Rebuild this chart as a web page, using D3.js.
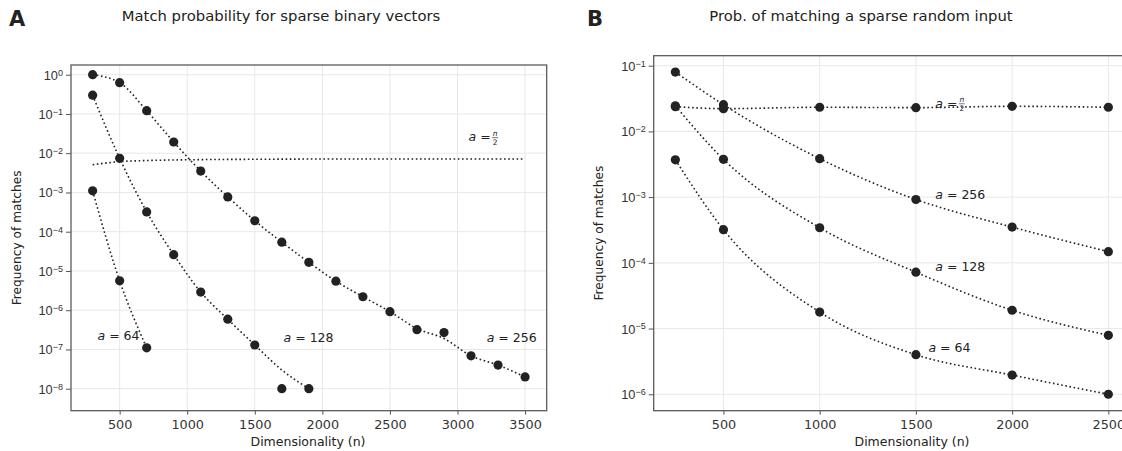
<!DOCTYPE html>
<html lang="en">
<head>
  <meta charset="UTF-8" />
  <title>Sparse match probability</title>
  <script src="https://d3js.org/d3.v7.min.js"></script>
  <style>
    body { margin: 0; background: #fff; }
    svg { display: block; font-family: 'DejaVu Sans', sans-serif; }
    .tick text { fill: #333; }
  </style>
</head>
<body>
  <svg width="1122" height="451"></svg>
  <script>
    // ---- panel A: simulated points and theory curves
    const nA64 = [300, 500, 700];
    const pA64 = [1.1e-3, 5.6e-6, 1.1e-7];
    const fitA64 = [1.1e-3, 5.6e-6, 1.1e-7];

    const nA128 = [300, 500, 700, 900, 1100, 1300, 1500, 1700, 1900];
    const pA128 = [0.30, 7.4e-3, 3.2e-4, 2.6e-5, 2.9e-6, 5.9e-7, 1.3e-7, 1.0e-8, 1.0e-8];
    const fitA128 = [0.30, 7.4e-3, 3.2e-4, 2.6e-5, 2.9e-6, 5.9e-7, 1.3e-7, 3.0e-8, 1.0e-8];

    const nA256 = [300, 500, 700, 900, 1100, 1300, 1500, 1700, 1900, 2100, 2300, 2500, 2700, 2900, 3100, 3300, 3500];
    const pA256 = [1.0, 0.625, 0.121, 0.0193, 3.5e-3, 7.7e-4, 1.9e-4, 5.4e-5, 1.66e-5, 5.5e-6, 2.2e-6, 9.2e-7, 3.2e-7, 2.7e-7, 6.9e-8, 4.0e-8, 2.0e-8];
    const fitA256 = [1.0, 0.625, 0.121, 0.0193, 3.5e-3, 7.7e-4, 1.9e-4, 5.4e-5, 1.66e-5, 5.5e-6, 2.2e-6, 9.2e-7, 3.4e-7, 1.9e-7, 6.9e-8, 4.0e-8, 2.0e-8];

    const nAHalf = [300, 500, 700, 1000, 1500, 2000, 2500, 3000, 3500];
    const fitAHalf = [5.1e-3, 6.1e-3, 6.5e-3, 6.8e-3, 7.0e-3, 7.1e-3, 7.1e-3, 7.1e-3, 7.1e-3];

    const xTicksA = [500, 1000, 1500, 2000, 2500, 3000, 3500];
    const yTicksA = [1e0, 1e-1, 1e-2, 1e-3, 1e-4, 1e-5, 1e-6, 1e-7, 1e-8];

    // ---- panel B
    const nB = [250, 500, 1000, 1500, 2000, 2500];
    const pBHalf = [0.0238, 0.0222, 0.0233, 0.0230, 0.0241, 0.0233];
    const pB256 = [0.080, 0.0255, 3.85e-3, 9.2e-4, 3.5e-4, 1.48e-4];
    const pB128 = [0.0245, 3.76e-3, 3.42e-4, 7.2e-5, 1.9e-5, 7.9e-6];
    const pB64 = [3.7e-3, 3.2e-4, 1.78e-5, 4.0e-6, 1.96e-6, 1.0e-6];

    const xTicksB = [500, 1000, 1500, 2000, 2500];
    const yTicksB = [1e-1, 1e-2, 1e-3, 1e-4, 1e-5, 1e-6];

    // curve labels: [text, n, p]
    const labelsA = [["64", 336, 2.2e-7], ["128", 1713, 1.96e-7], ["256", 3216, 1.96e-7], ["half", 3082, 0.0257]];
    const labelsB = [["half", 1601, 0.0268], ["256", 1601, 1.11e-3], ["128", 1601, 8.9e-5], ["64", 1565, 5.2e-6]];

    const svg = d3.select("svg");
    const ink = "#222";

    function expLabel(sel, v) {
      const e = Math.round(Math.log10(v));
      sel.append("tspan").text("10");
      sel.append("tspan").attr("dy", "-0.45em").attr("font-size", "9px")
        .text(String(e).replace("-", "\u2212"));
    }

    function curveLabel(g, x, y, d) {
      const t = g.append("text")
        .attr("x", x(d[1])).attr("y", y(d[2])).attr("dy", "0.35em")
        .attr("font-size", "12.5px").attr("fill", ink);
      t.append("tspan").attr("font-style", "italic").text("a");
      if (d[0] === "half") {
        t.append("tspan").text(" =");
        const bx = x(d[1]) + 23.5;
        const by = y(d[2]);
        g.append("text").attr("x", bx + 3).attr("y", by - 1.5).attr("text-anchor", "middle")
          .attr("font-size", "7.5px").attr("font-style", "italic").attr("fill", ink).text("n");
        g.append("text").attr("x", bx + 3).attr("y", by + 8).attr("text-anchor", "middle")
          .attr("font-size", "7.5px").attr("fill", ink).text("2");
        g.append("line").attr("x1", bx).attr("x2", bx + 6).attr("y1", by + 0.5).attr("y2", by + 0.5)
          .attr("stroke", ink).attr("stroke-width", 0.6);
      } else {
        t.append("tspan").text(" = " + d[0]);
      }
    }

    function panel(o) {
      const x = d3.scaleLinear().domain(o.xDomain).range([o.left, o.right]);
      const y = d3.scaleLog().domain(o.yDomain).range([o.bottom, o.top]);
      const g = svg.append("g");

      // grid
      g.append("g").selectAll("line").data(o.xTicks).join("line")
        .attr("x1", d => x(d)).attr("x2", d => x(d))
        .attr("y1", o.top).attr("y2", o.bottom)
        .attr("stroke", "#e8e8e8").attr("stroke-width", 1);
      g.append("g").selectAll("line").data(o.yTicks).join("line")
        .attr("x1", o.left).attr("x2", o.right)
        .attr("y1", d => y(d)).attr("y2", d => y(d))
        .attr("stroke", "#e8e8e8").attr("stroke-width", 1);

      const line = d3.line().x(d => x(d[0])).y(d => y(d[1])).curve(d3.curveMonotoneX);
      o.lines.forEach(s => {
        g.append("path").datum(d3.zip(s[0], s[1]))
          .attr("d", line)
          .attr("fill", "none").attr("stroke", ink)
          .attr("stroke-width", 1.6).attr("stroke-dasharray", "1.6,2.6");
      });
      o.points.forEach(s => {
        g.append("g").selectAll("circle").data(d3.zip(s[0], s[1])).join("circle")
          .attr("cx", d => x(d[0])).attr("cy", d => y(d[1]))
          .attr("r", 4.6).attr("fill", ink);
      });

      o.labels.forEach(d => curveLabel(g, x, y, d));

      // frame
      g.append("rect")
        .attr("x", o.left).attr("y", o.top)
        .attr("width", o.right - o.left).attr("height", o.bottom - o.top)
        .attr("fill", "none").attr("stroke", "#555").attr("stroke-width", 1.25);

      // axes
      const xa = g.append("g").attr("transform", `translate(0,${o.bottom})`)
        .call(d3.axisBottom(x).tickValues(o.xTicks).tickFormat(d3.format("d")).tickSize(4).tickPadding(5));
      xa.select(".domain").remove();
      xa.selectAll("line").attr("stroke", "#555");
      xa.selectAll("text").attr("font-size", "12.8px").attr("font-family", "DejaVu Sans");

      const ya = g.append("g").attr("transform", `translate(${o.left},0)`)
        .call(d3.axisLeft(y).tickValues(o.yTicks).tickFormat("").tickSize(5).tickPadding(4));
      ya.select(".domain").remove();
      ya.selectAll("line").attr("stroke", "#555");
      ya.selectAll(".tick text").remove();
      ya.selectAll(".tick").append("text")
        .attr("x", -8).attr("dy", "0.35em").attr("text-anchor", "end")
        .attr("font-size", "12.8px").attr("fill", "#333")
        .each(function(v) { expLabel(d3.select(this), v); });

      // titles
      g.append("text").attr("x", o.letterX).attr("y", 26)
        .attr("font-size", "21px").attr("font-weight", "bold").attr("fill", ink).text(o.letter);
      g.append("text").attr("x", o.titleX).attr("y", 21).attr("text-anchor", "middle")
        .attr("font-size", "14.8px").attr("fill", ink).text(o.title);
      g.append("text").attr("x", o.xLabelX).attr("y", 446).attr("text-anchor", "middle")
        .attr("font-size", "12.5px").attr("fill", ink).text("Dimensionality (n)");
      g.append("text")
        .attr("transform", `translate(${o.yLabelX},${(o.top + o.bottom) / 2}) rotate(-90)`)
        .attr("text-anchor", "middle").attr("font-size", "12.2px").attr("fill", ink)
        .text("Frequency of matches");
    }

    panel({
      left: 71, right: 546.7, top: 65, bottom: 410.7,
      xDomain: [140, 3660], yDomain: [Math.pow(10, -8.56), Math.pow(10, 0.247)],
      xTicks: xTicksA, yTicks: yTicksA,
      lines: [[nA64, fitA64], [nA128, fitA128], [nA256, fitA256], [nAHalf, fitAHalf]],
      points: [[nA64, pA64], [nA128, pA128], [nA256, pA256]],
      labels: labelsA,
      letter: "A", letterX: 9, title: "Match probability for sparse binary vectors", titleX: 281,
      xLabelX: 308, yLabelX: 21
    });

    panel({
      left: 653.7, right: 1130, top: 55.7, bottom: 410.7,
      xDomain: [137.5, 2612.5], yDomain: [Math.pow(10, -6.25), Math.pow(10, -0.848)],
      xTicks: xTicksB, yTicks: yTicksB,
      lines: [[nB, pBHalf], [nB, pB256], [nB, pB128], [nB, pB64]],
      points: [[nB, pBHalf], [nB, pB256], [nB, pB128], [nB, pB64]],
      labels: labelsB,
      letter: "B", letterX: 587, title: "Prob. of matching a sparse random input", titleX: 861,
      xLabelX: 912, yLabelX: 603
    });
  </script>
</body>
</html>
